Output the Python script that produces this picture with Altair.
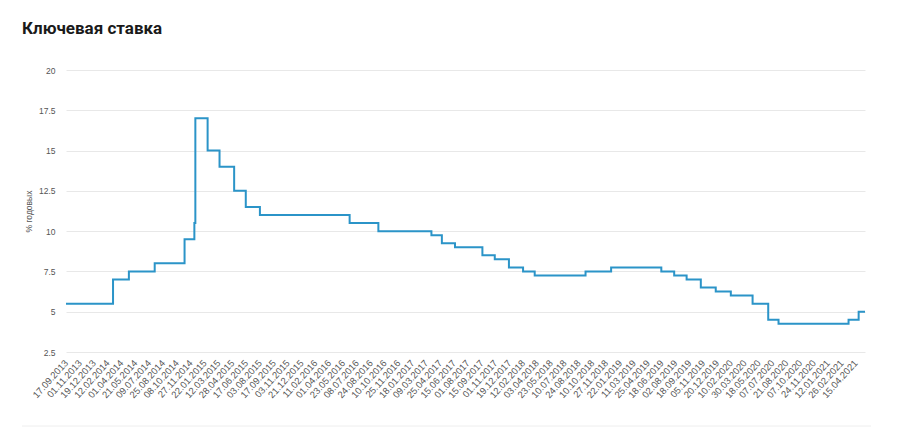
import datetime as dt
import altair as alt
import pandas as pd

# Axis tick labels (one every 32 trading days)
tick_labels = [
    "17.09.2013", "01.11.2013", "19.12.2013", "12.02.2014", "01.04.2014", "21.05.2014",
    "09.07.2014", "25.08.2014", "08.10.2014", "27.11.2014", "22.01.2015", "12.03.2015",
    "28.04.2015", "17.06.2015", "03.08.2015", "17.09.2015", "03.11.2015", "21.12.2015",
    "11.02.2016", "01.04.2016", "23.05.2016", "08.07.2016", "24.08.2016", "10.10.2016",
    "25.11.2016", "18.01.2017", "09.03.2017", "25.04.2017", "15.06.2017", "01.08.2017",
    "15.09.2017", "01.11.2017", "19.12.2017", "12.02.2018", "03.04.2018", "23.05.2018",
    "10.07.2018", "24.08.2018", "10.10.2018", "27.11.2018", "22.01.2019", "11.03.2019",
    "25.04.2019", "18.06.2019", "02.08.2019", "18.09.2019", "05.11.2019", "20.12.2019",
    "10.02.2020", "30.03.2020", "18.05.2020", "07.07.2020", "21.08.2020", "07.10.2020",
    "24.11.2020", "12.01.2021", "26.02.2021", "15.04.2021",
]
STEP = 32

# Key rate change dates and values
change_dates = [
    "17.09.2013", "03.03.2014", "28.04.2014", "28.07.2014", "05.11.2014", "12.12.2014",
    "16.12.2014", "02.02.2015", "16.03.2015", "05.05.2015", "16.06.2015", "03.08.2015",
    "14.06.2016", "19.09.2016", "27.03.2017", "02.05.2017", "19.06.2017", "18.09.2017",
    "30.10.2017", "18.12.2017", "12.02.2018", "26.03.2018", "17.09.2018", "17.12.2018",
    "17.06.2019", "29.07.2019", "09.09.2019", "28.10.2019", "16.12.2019", "10.02.2020",
    "27.04.2020", "22.06.2020", "27.07.2020", "22.03.2021", "26.04.2021", "18.05.2021",
]
rates = [
    5.5, 7.0, 7.5, 8.0, 9.5, 10.5,
    17.0, 15.0, 14.0, 12.5, 11.5, 11.0,
    10.5, 10.0, 9.75, 9.25, 9.0, 8.5,
    8.25, 7.75, 7.5, 7.25, 7.5, 7.75,
    7.5, 7.25, 7.0, 6.5, 6.25, 6.0,
    5.5, 4.5, 4.25, 4.5, 5.0, 5.0,
]

title_text = "Ключевая ставка"


def parse(s):
    return dt.datetime.strptime(s, "%d.%m.%Y").date()


tick_dates = [parse(s) for s in tick_labels]


def to_index(d):
    for k in range(len(tick_dates) - 1):
        a, b = tick_dates[k], tick_dates[k + 1]
        if a <= d <= b:
            return STEP * (k + (d - a).days / (b - a).days)
    a, b = tick_dates[-2], tick_dates[-1]
    k = len(tick_dates) - 1
    return STEP * (k + (d - b).days / (b - a).days)


df = pd.DataFrame({"i": [to_index(parse(s)) for s in change_dates], "rate": rates})
x_max = df["i"].max()

label_expr = "[" + ",".join(f"'{s}'" for s in tick_labels) + f"][round(datum.value/{STEP})]"

W, H = 799, 282

line = alt.Chart(df).mark_line(interpolate="step-after", color="#2b94c8", strokeWidth=2).encode(
    x=alt.X("i:Q", scale=alt.Scale(domain=[0, x_max], nice=False, zero=False),
            axis=alt.Axis(values=[k * STEP for k in range(len(tick_labels))], labelExpr=label_expr,
                          labelAngle=312, labelAlign="right", labelBaseline="middle",
                          labelFontSize=9.5, labelColor="#555", labelFont="Liberation Sans",
                          grid=False, ticks=False, domain=False, labelPadding=9,
                          labelOverlap=False, labelBound=False, labelFlush=False, title=None)),
    y=alt.Y("rate:Q", scale=alt.Scale(domain=[2.5, 20], nice=False, zero=False),
            axis=alt.Axis(values=[2.5, 5, 7.5, 10, 12.5, 15, 17.5, 20], format=".1~f",
                          labelFontSize=8.5,
                          labelColor="#555", labelFont="Liberation Sans", ticks=False, domain=False,
                          gridColor="#e8e8e8", labelPadding=11,
                          title="% годовых", titleFontSize=8.5, titleColor="#555",
                          titleFont="Liberation Sans", titleFontWeight="normal", titlePadding=5)),
)

sep = pd.DataFrame({"t": [title_text]})
top_rule = alt.Chart(sep).mark_rule(color="#eeeeee", strokeWidth=1).encode(
    x=alt.value(-44), x2=alt.value(W + 6), y=alt.value(-67))
bot_rule = alt.Chart(sep).mark_rule(color="#eeeeee", strokeWidth=1).encode(
    x=alt.value(-44), x2=alt.value(W + 6), y=alt.value(H + 74))
title = alt.Chart(sep).mark_text(align="left", baseline="middle", fontSize=17, font="Roboto",
                                 fontWeight="bold", color="#1a1a1a").encode(
    x=alt.value(-44), y=alt.value(-41), text="t:N")

chart = alt.layer(top_rule, bot_rule, title, line).properties(
    width=W, height=H,
    padding={"left": 58, "top": 62, "right": 20, "bottom": 90},
    autosize=alt.AutoSizeParams(type="none"),
).configure_view(stroke=None)

chart.save("out.html", embed_options={"renderer": "svg", "actions": False})
